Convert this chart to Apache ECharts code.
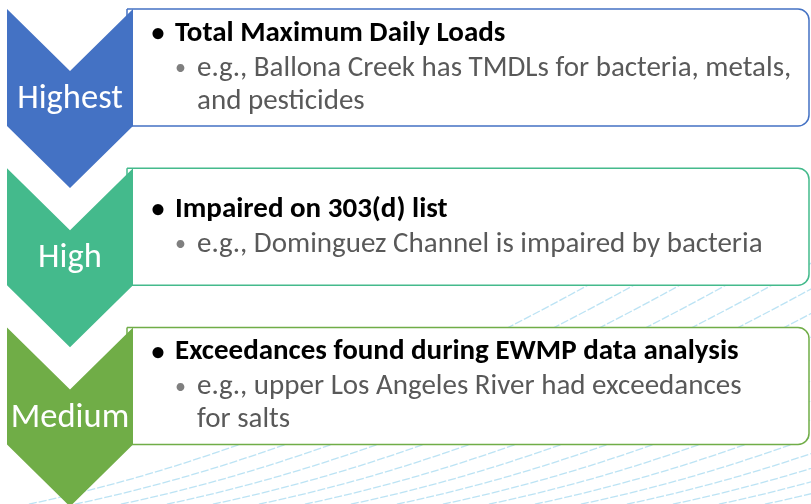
<!DOCTYPE html>
<html>
<head>
<meta charset="utf-8">
<title>Priority levels</title>
<script src="https://cdn.jsdelivr.net/npm/echarts@6/dist/echarts.min.js"></script>
<style>
  html, body { margin: 0; padding: 0; background: #fff; }
  #chart { width: 811px; height: 504px; }
</style>
</head>
<body>
<div id="chart"></div>
<script>
// 优先级分类
var levels = ["Highest", "High", "Medium"]
// 每一级的主标题
var headings = [
  "Total Maximum Daily Loads",
  "Impaired on 303(d) list",
  "Exceedances found during EWMP data analysis"
]
// 每一级的举例（已按原图断行）
var details = [
  ["e.g., Ballona Creek has TMDLs for bacteria, metals,", "and pesticides"],
  ["e.g., Dominguez Channel is impaired by bacteria"],
  ["e.g., upper Los Angeles River had exceedances", "for salts"]
]
var colors = ["#4472C4", "#44BA8C", "#70AD47"]

var FONT = "Carlito, Lato, sans-serif"

var myChart = echarts.init(document.getElementById("chart"))

// 背景里的浅蓝色弧线
function swooshes() {
  var list = []
  for (var i = 0; i < 18; i++) {
    var sx = 30 + i * 46
    list.push({
      type: "bezierCurve",
      silent: true,
      shape: {
        x1: sx - 60, y1: 515,
        cpx1: sx + 250, cpy1: 465,
        x2: sx + 620, y2: 250
      },
      style: { stroke: "#8fd0ec", lineWidth: 1.3, opacity: 0.6, fill: null, lineDash: [8, 2] },
      z: 0
    })
  }
  return list
}

function renderItem(params, api) {
  var idx = api.value(1)
  var cs = params.coordSys
  var cy = api.coord([0, idx])[1]
  var band = api.size([0, 1])[1]
  var boxH = band * 0.735
  var bt = cy - boxH / 2
  var depth = 62
  var left = cs.x
  var chevW = 126
  var right = left + chevW
  var mid = left + chevW / 2
  var boxRight = cs.x + cs.width
  var color = colors[idx]

  var children = []
  // 右侧方框
  children.push({
    type: "rect",
    shape: { x: right - 6, y: bt, width: boxRight - right + 5, height: boxH, r: [0, 11, 11, 0] },
    style: { fill: "#fff", stroke: color, lineWidth: 1.5 }
  })
  // 箭头形状
  children.push({
    type: "polygon",
    shape: {
      points: [
        [left, bt], [mid, bt + depth], [right, bt],
        [right, bt + boxH], [mid, bt + boxH + depth], [left, bt + boxH]
      ]
    },
    style: { fill: color }
  })
  // 等级文字
  children.push({
    type: "text",
    style: {
      x: mid, y: bt + (depth + boxH) / 2 + 1,
      text: levels[idx],
      fill: "#fff",
      font: "34.5px " + FONT,
      align: "center", verticalAlign: "middle"
    }
  })
  // 文字块 垂直居中
  var lines = details[idx]
  var span = 35 + 33 * (lines.length - 1)
  var y0 = cy - span / 2
  children.push({
    type: "text",
    style: { x: 158, y: y0 + 1, text: "•", fill: "#000", font: "bold 26px " + FONT, align: "center", verticalAlign: "middle" }
  })
  children.push({
    type: "text",
    style: { x: 175, y: y0, text: headings[idx], fill: "#000", font: "bold 29px " + FONT, verticalAlign: "middle" }
  })
  lines.forEach(function (ln, j) {
    var ly = y0 + 35 + 33 * j
    if (j === 0) {
      children.push({
        type: "text",
        style: { x: 180.5, y: ly + 1, text: "•", fill: "#7f7f7f", font: "22px " + FONT, align: "center", verticalAlign: "middle" }
      })
    }
    children.push({
      type: "text",
      style: { x: 197, y: ly, text: ln, fill: "#595959", font: "29px " + FONT, verticalAlign: "middle" }
    })
  })
  return { type: "group", children: children }
}

var option = {
  animation: false,
  backgroundColor: "#fff",
  graphic: swooshes(),
  grid: { left: 7, right: 1, top: 0, bottom: 0 },
  xAxis: { type: "value", min: 0, max: 1, show: false },
  // 行位置：第 0 行中心在 67.5px，每行间距 159.25px
  yAxis: { type: "value", inverse: true, min: -0.424, max: 2.741, show: false },
  series: [
    {
      type: "custom",
      renderItem: renderItem,
      clip: false,
      z: 2,
      data: levels.map(function (name, i) { return [0, i] })
    }
  ]
}

myChart.setOption(option)
</script>
</body>
</html>
